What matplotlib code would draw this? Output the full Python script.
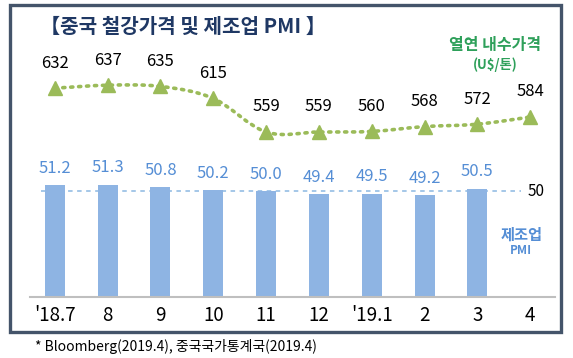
import matplotlib
matplotlib.use("Agg")
import matplotlib.pyplot as plt
from matplotlib.path import Path
from matplotlib.patches import PathPatch, Rectangle
import numpy as np

plt.rcParams['font.family'] = ['Noto Sans CJK KR', 'DejaVu Sans']

categories = ["'18.7", "8", "9", "10", "11", "12", "'19.1", "2", "3", "4"]
pmi = [51.2, 51.3, 50.8, 50.2, 50.0, 49.4, 49.5, 49.2, 50.5]
steel_price = [632, 637, 635, 615, 559, 559, 560, 568, 572, 584]

W, H = 573, 358
fig = plt.figure(figsize=(W / 100, H / 100), dpi=100)

def fx(px):
    return px / W

def fy(py):
    return 1 - py / H

ax_left, ax_right = 30, 555
ax_bottom, ax_top = 297, 40
ax = fig.add_axes([fx(ax_left), fy(ax_bottom), (ax_right - ax_left) / W, (ax_bottom - ax_top) / H])
h_px = ax_bottom - ax_top

bar_color = '#8EB4E3'
label_blue = '#558ED5'
green = '#9BBB59'
green_text = '#2EA05A'

x = np.arange(len(categories))
ax.set_xlim(-0.47, 9.47)
pmi_base = 28.8
ax.set_ylim(pmi_base, pmi_base + h_px / 5.0)
ax.bar(x[:len(pmi)], [v - pmi_base for v in pmi], bottom=pmi_base, width=0.38, color=bar_color, zorder=2)
for xi, v in zip(x, pmi):
    ax.annotate(f"{v:.1f}", (xi, v), xytext=(0, 6), textcoords='offset points',
                ha='center', va='bottom', fontsize=12, color=label_blue)
ax.axhline(50, xmin=0.02, xmax=0.935, color='#9DC3E6', lw=1.3, ls=(0, (2.5, 2.5)), zorder=1)
ax.text(9.12, 50, "50", ha='center', va='center', fontsize=11, color='black')
ax.text(8.83, 41.2, "제조업", ha='center', va='center', fontsize=11, color=label_blue, fontweight='bold')
ax.text(8.83, 38.0, "PMI", ha='center', va='center', fontsize=8.5, color=label_blue, fontweight='bold')

for s in ['top', 'right', 'left']:
    ax.spines[s].set_visible(False)
ax.spines['bottom'].set_color('#BFBFBF')
ax.spines['bottom'].set_linewidth(1.5)
ax.set_yticks([])
ax.set_xticks(x)
ax.set_xticklabels(categories, fontsize=13.5)
ax.tick_params(axis='x', length=0, pad=6)

ax2 = ax.twinx()
ax2.set_xlim(-0.47, 9.47)
p_base = 284
ax2.set_ylim(p_base, p_base + h_px / 0.6)
ax2.axis('off')

# smooth curve (Catmull-Rom as cubic Bezier) through the data points
pts = np.column_stack([x, steel_price]).astype(float)
verts = [tuple(pts[0])]
codes = [Path.MOVETO]
n = len(pts)
for i in range(n - 1):
    p0 = pts[i - 1] if i > 0 else pts[i]
    p1 = pts[i]
    p2 = pts[i + 1]
    p3 = pts[i + 2] if i + 2 < n else pts[i + 1]
    c1 = p1 + (p2 - p0) / 6.0
    c2 = p2 - (p3 - p1) / 6.0
    verts += [tuple(c1), tuple(c2), tuple(p2)]
    codes += [Path.CURVE4] * 3
patch = PathPatch(Path(verts, codes), facecolor='none', edgecolor=green, lw=2.6,
                  ls=(0, (0.6, 1.6)), capstyle='round', zorder=3)
ax2.add_patch(patch)
ax2.plot(x, steel_price, ls='none', marker='^', ms=10, color=green, zorder=4)
for xi, v in zip(x, steel_price):
    ax2.annotate(f"{v}", (xi, v), xytext=(0, 12), textcoords='offset points',
                 ha='center', va='bottom', fontsize=12, color='black')
ax2.text(8.33, 704, "열연 내수가격", ha='center', va='center', fontsize=11.5, color=green_text, fontweight='bold')
ax2.text(8.33, 671, "(U$/톤)", ha='center', va='center', fontsize=9.5, color=green_text, fontweight='bold')

# title and footnote
fig.text(fx(40), fy(26), "【중국 철강가격 및 제조업 PMI 】", ha='left', va='center',
         fontsize=14.5, fontweight='bold', color='#1F3864')
fig.text(fx(35), fy(347), "* Bloomberg(2019.4), 중국국가통계국(2019.4)", ha='left', va='center',
         fontsize=10, color='black')

# border
fig.patches.append(Rectangle((fx(10), fy(332)), (561 - 10) / W, (332 - 5) / H,
                             transform=fig.transFigure, fill=False, edgecolor='#44546A', lw=2.4))

fig.savefig("out.png", dpi=100)
